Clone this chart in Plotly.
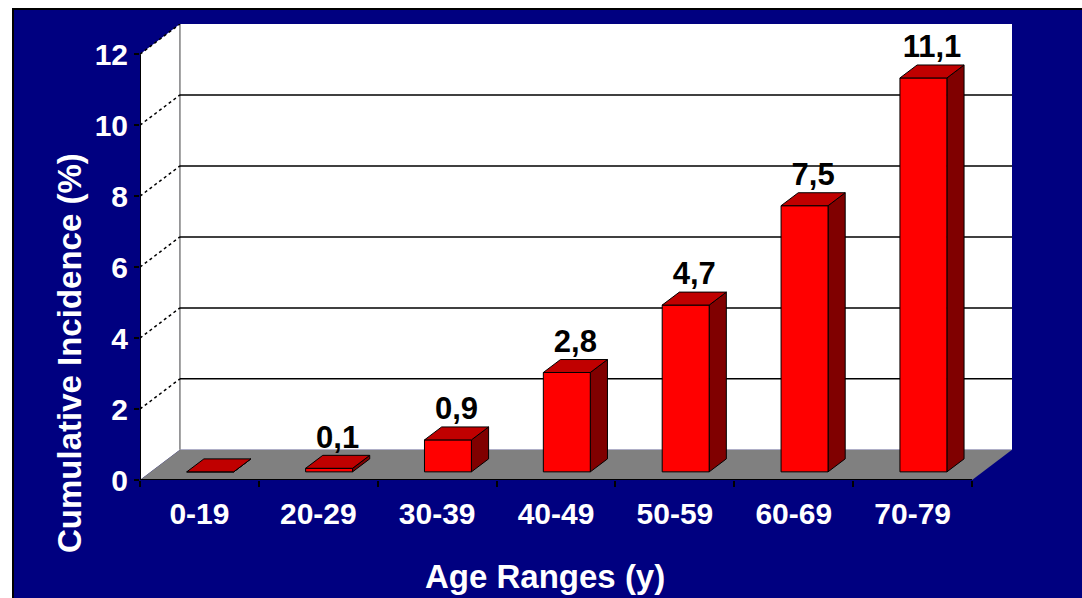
import plotly.graph_objects as go

# ---------------- data ----------------
categories = ["0-19", "20-29", "30-39", "40-49", "50-59", "60-69", "70-79"]
values = [0.0, 0.1, 0.9, 2.8, 4.7, 7.5, 11.1]
value_labels = ["", "0,1", "0,9", "2,8", "4,7", "7,5", "11,1"]
y_ticks = [0, 2, 4, 6, 8, 10, 12]
y_title = "Cumulative Incidence (%)"
x_title = "Age Ranges (y)"

# ---------------- 3-D look parameters ----------------
D = 0.336      # wall depth, x units
Dy = 0.85      # wall depth, y units
f1, f2 = 0.27, 0.70   # bar front/back depth fractions
w = 0.395      # bar width
ymax = y_ticks[-1]
n = len(categories)

FONT = "Liberation Sans, Arial, sans-serif"
NAVY = "#000080"

fig = go.Figure()

def poly(xs, ys, fill, line_color="black", lw=1, dash=None):
    fig.add_trace(go.Scatter(
        x=xs + [xs[0]], y=ys + [ys[0]], mode="lines", fill="toself",
        fillcolor=fill, line=dict(color=line_color, width=lw, dash=dash),
        hoverinfo="skip", showlegend=False))

def line(xs, ys, color="black", lw=1, dash=None):
    fig.add_trace(go.Scatter(
        x=xs, y=ys, mode="lines", line=dict(color=color, width=lw, dash=dash),
        hoverinfo="skip", showlegend=False))

# back wall
poly([D, n + D, n + D, D], [Dy, Dy, ymax + Dy, ymax + Dy], "white", "white", 0)
# left wall
poly([0, D, D, 0], [0, Dy, ymax + Dy, ymax], "white", "white", 0)
# floor
poly([0, n, n + D, D], [0, 0, Dy, Dy], "#808080", "#808080", 0)
# back wall / left wall edge
line([D, D], [Dy, ymax + Dy], "#808080", 1.5)

# gridlines on back wall and diagonals on left wall
for t in y_ticks:
    if 0 < t < ymax:
        line([D, n + D], [t + Dy, t + Dy], "black", 1.5)
    if t > 0:
        line([0, D], [t, t + Dy], "black", 1.5, "dot")

# bars
dd, ddy = (f2 - f1) * D, (f2 - f1) * Dy
lab_x, lab_y = [], []
for i, v in enumerate(values):
    x0 = i + 0.5 - w / 2 + f1 * D
    x1 = x0 + w
    y0 = f1 * Dy
    y1 = v + f1 * Dy
    # side
    poly([x1, x1 + dd, x1 + dd, x1], [y0, y0 + ddy, y1 + ddy, y1], "#800000")
    # front
    poly([x0, x1, x1, x0], [y0, y0, y1, y1], "#FF0000")
    # top
    poly([x0, x1, x1 + dd, x0 + dd], [y1, y1, y1 + ddy, y1 + ddy], "#C00000")
    lab_x.append(x0 + w / 2 + dd / 2)
    lab_y.append(y1 + ddy)

fig.add_trace(go.Scatter(
    x=lab_x, y=lab_y, mode="text", text=value_labels, textposition="top center",
    textfont=dict(family=FONT, size=31, color="black", weight="bold"),
    hoverinfo="skip", showlegend=False))

# front axis lines
line([0, 0], [0, ymax], "black", 2)
line([0, n], [0, 0], "black", 2)

W, H = 1082, 598
L, T = 140, 24
R = W - 1012
B = H - 480
pw, ph = W - L - R, H - T - B

def px_x(p):          # page pixel -> paper coordinate
    return (p - L) / pw

def px_y(p):
    return (H - B - p) / ph

fig.update_layout(
    width=W, height=H,
    margin=dict(l=L, r=R, t=T, b=B),
    paper_bgcolor="white",
    plot_bgcolor="rgba(0,0,0,0)",
    showlegend=False,
    xaxis=dict(
        range=[0, n + D], showgrid=False, zeroline=False, showline=False,
        tickmode="array", tickvals=[i + 0.5 for i in range(n)], ticktext=categories,
        ticks="", ticklabelstandoff=13,
        tickfont=dict(family=FONT, size=30, color="white", weight="bold"),
        minor=dict(tickmode="array", tickvals=list(range(n + 1)), ticks="outside",
                   ticklen=6, tickcolor="black", tickwidth=2, showgrid=False),
        fixedrange=True,
    ),
    yaxis=dict(
        range=[0, ymax + Dy], showgrid=False, zeroline=False, showline=False,
        tickmode="array", tickvals=y_ticks, ticktext=[str(t) for t in y_ticks],
        ticks="outside", ticklen=5, tickcolor="black", tickwidth=2,
        ticklabelstandoff=0,
        tickfont=dict(family=FONT, size=30, color="white", weight="bold"),
        fixedrange=True,
    ),
    shapes=[dict(
        type="rect", xref="paper", yref="paper", layer="below",
        x0=px_x(13), x1=px_x(1110), y0=px_y(630), y1=px_y(9),
        fillcolor=NAVY, line=dict(color="black", width=2),
    )],
    annotations=[
        dict(text=y_title, xref="paper", yref="paper", x=px_x(69), y=px_y(353),
             xanchor="center", yanchor="middle", textangle=-90, showarrow=False,
             font=dict(family=FONT, size=33, color="white", weight="bold")),
        dict(text=x_title, xref="paper", yref="paper", x=px_x(545), y=px_y(576),
             xanchor="center", yanchor="middle", showarrow=False,
             font=dict(family=FONT, size=33, color="white", weight="bold")),
    ],
)

fig.write_html(
    "out.html",
    config={"displayModeBar": False},
    post_script="document.body.style.margin='0';document.body.style.overflow='hidden';",
)
